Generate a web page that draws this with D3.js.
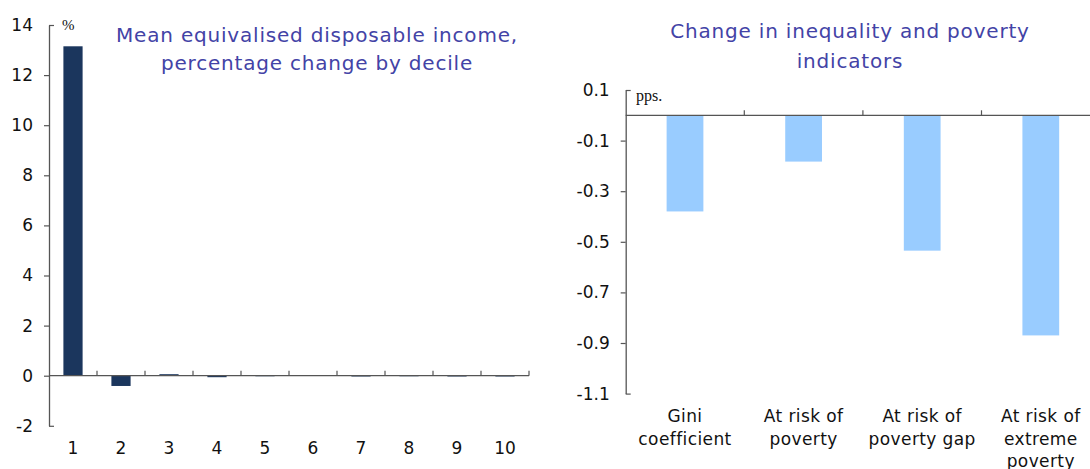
<!DOCTYPE html>
<html>
<head>
<meta charset="utf-8">
<script src="https://cdn.jsdelivr.net/npm/d3@7"></script>
<style>
  html, body { margin: 0; padding: 0; background: #fff; overflow: hidden; }
  svg { display: block; }
  text { font-family: "DejaVu Sans", sans-serif; }
</style>
</head>
<body>
<svg id="chart" width="1090" height="469"></svg>
<script>
// ---- Data ----
const deciles = ["1", "2", "3", "4", "5", "6", "7", "8", "9", "10"];
const incomeChange = [13.15, -0.41, 0.06, -0.06, 0.01, 0.02, -0.01, 0.01, -0.02, 0.0];
const leftTicks = [-2, 0, 2, 4, 6, 8, 10, 12, 14];
const leftTitle = ["Mean equivalised disposable income,", "percentage change by decile"];
const leftUnit = "%";

const indicators = [
  ["Gini", "coefficient"],
  ["At risk of", "poverty"],
  ["At risk of", "poverty gap"],
  ["At risk of", "extreme", "poverty"]
];
const indicatorChange = [-0.38, -0.183, -0.535, -0.87];
const rightTicks = [-1.1, -0.9, -0.7, -0.5, -0.3, -0.1, 0.1];
const rightTitle = ["Change in inequality and poverty", "indicators"];
const rightUnit = "pps.";

// ---- Styles ----
const titleColor = "#4343a6";
const axisColor = "#555555";
const darkBar = "#1b365d";
const lightBar = "#99ccff";

const svg = d3.select("#chart");
const hyphenate = f => v => f(v).replace("\u2212", "-");

function drawYAxis(g, y, ticks, fmt, x0) {
  const ax = g.append("g").attr("transform", `translate(${x0},0)`)
    .call(d3.axisLeft(y).tickValues(ticks).tickFormat(fmt).tickSize(5).tickSizeOuter(0).tickPadding(11));
  ax.select(".domain").attr("stroke", axisColor).attr("stroke-width", 1.3);
  ax.selectAll(".tick line").attr("stroke", axisColor).attr("stroke-width", 1.2);
  const n = ticks.length;
  ax.selectAll(".tick line").filter((d, i) => i === 0 || i === n - 1).attr("x2", 5);
  ax.selectAll(".tick text").attr("fill", "#111").style("font-size", "17px");
  return ax;
}

// ---- Left chart ----
{
  const g = svg.append("g");
  const y = d3.scaleLinear().domain([-2, 14]).range([425.8, 25]);
  const x = d3.scaleBand().domain(deciles).range([49, 529]).paddingInner(0.6).paddingOuter(0.3);

  g.selectAll("rect.bar").data(incomeChange).enter().append("rect")
    .attr("class", "bar")
    .attr("x", (d, i) => x(deciles[i]))
    .attr("width", x.bandwidth())
    .attr("y", d => y(Math.max(0, d)))
    .attr("height", d => Math.max(0.8, Math.abs(y(d) - y(0))))
    .attr("fill", darkBar);

  drawYAxis(g, y, leftTicks, hyphenate(d3.format("d")), 49);

  const y0 = y(0);
  g.append("line").attr("x1", 49).attr("x2", 529).attr("y1", y0).attr("y2", y0)
    .attr("stroke", axisColor).attr("stroke-width", 1.3);
  const step = x.step();
  const bounds = deciles.map((d, i) => 49 + step * (i + 1));
  g.selectAll("line.ct").data(bounds).enter().append("line")
    .attr("x1", d => d).attr("x2", d => d).attr("y1", y0).attr("y2", y0 - 5)
    .attr("stroke", axisColor).attr("stroke-width", 1.2);
  g.selectAll("text.xl").data(deciles).enter().append("text")
    .attr("x", d => x(d) + x.bandwidth() / 2).attr("y", 448)
    .attr("text-anchor", "middle").attr("dominant-baseline", "central")
    .style("font-size", "17px").attr("fill", "#111").text(d => d);

  g.append("text").attr("x", 62).attr("y", 25).attr("dominant-baseline", "central")
    .style("font-family", "'Liberation Serif', serif").style("font-size", "15px").attr("fill", "#111")
    .text(leftUnit);

  g.selectAll("text.title").data(leftTitle).enter().append("text")
    .attr("x", 317).attr("y", (d, i) => 35 + i * 27.5)
    .attr("text-anchor", "middle").attr("dominant-baseline", "central")
    .style("font-size", "20px").style("letter-spacing", "0.8px")
    .attr("fill", titleColor).text(d => d);
}

// ---- Right chart ----
{
  const g = svg.append("g");
  const y = d3.scaleLinear().domain([-1.1, 0.1]).range([393.6, 90]);
  const names = indicators.map(d => d.join(" "));
  const x = d3.scaleBand().domain(names).range([625.7, 1100.1]).paddingInner(0.69).paddingOuter(0.345);

  g.selectAll("rect.bar").data(indicatorChange).enter().append("rect")
    .attr("class", "bar")
    .attr("x", (d, i) => x(names[i]))
    .attr("width", x.bandwidth())
    .attr("y", d => y(Math.max(0, d)))
    .attr("height", d => Math.abs(y(d) - y(0)))
    .attr("fill", lightBar);

  drawYAxis(g, y, rightTicks, hyphenate(d3.format(".1f")), 625.7);

  const y0 = y(0);
  g.append("line").attr("x1", 625.7).attr("x2", 1100).attr("y1", y0).attr("y2", y0)
    .attr("stroke", axisColor).attr("stroke-width", 1.3);
  const step = x.step();
  const bounds = names.map((d, i) => 625.7 + step * (i + 1));
  g.selectAll("line.ct").data(bounds).enter().append("line")
    .attr("x1", d => d).attr("x2", d => d).attr("y1", y0).attr("y2", y0 - 5)
    .attr("stroke", axisColor).attr("stroke-width", 1.2);

  indicators.forEach((lines, i) => {
    const cx = x(names[i]) + x.bandwidth() / 2;
    g.append("text").attr("text-anchor", "middle").attr("fill", "#111")
      .style("font-size", "17px").style("letter-spacing", "0.4px")
      .selectAll("tspan").data(lines).enter().append("tspan")
      .attr("x", cx).attr("y", (d, j) => 416 + j * 22.5).attr("dominant-baseline", "central")
      .text(d => d);
  });

  g.append("text").attr("x", 636).attr("y", 95).attr("dominant-baseline", "central")
    .style("font-family", "'Liberation Serif', serif").style("font-size", "16px").attr("fill", "#111")
    .text(rightUnit);

  g.selectAll("text.title").data(rightTitle).enter().append("text")
    .attr("x", 850).attr("y", (d, i) => 31 + i * 29.5)
    .attr("text-anchor", "middle").attr("dominant-baseline", "central")
    .style("font-size", "20px").style("letter-spacing", "0.8px")
    .attr("fill", titleColor).text(d => d);
}
</script>
</body>
</html>
